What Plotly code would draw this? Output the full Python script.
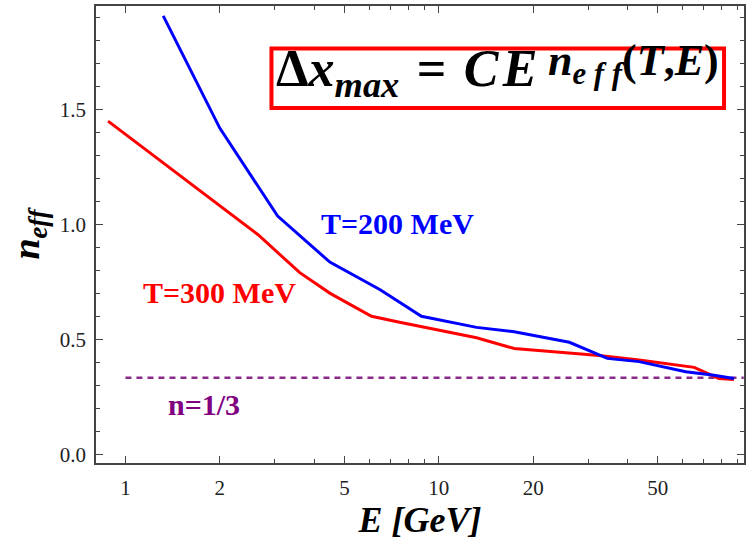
import plotly.graph_objects as go

# T = 200 MeV curve
E_200 = [1.32, 2.0, 3.06, 4.49, 6.5, 8.8, 13.2, 17.4, 26.1, 34.5, 43.6, 61.4, 74.6, 87.5]
n_200 = [1.907, 1.419, 1.036, 0.836, 0.716, 0.600, 0.552, 0.533, 0.487, 0.417, 0.403, 0.359, 0.345, 0.330]

# T = 300 MeV curve
E_300 = [0.88, 1.8, 2.65, 3.6, 4.5, 6.1, 7.5, 13.2, 17.4, 32.5, 43.6, 65.3, 78.3, 87.5]
n_300 = [1.449, 1.13, 0.955, 0.79, 0.70, 0.60, 0.574, 0.507, 0.46, 0.43, 0.41, 0.378, 0.33, 0.325]

# reference n = 1/3
E_ref = [1.0, 94.0]
n_ref = [1/3, 1/3]

x_tickvals = [1, 2, 5, 10, 20, 50]
x_ticktext = ["1", "2", "5", "10", "20", "50"]
x_minor = [3, 4, 6, 7, 8, 9, 30, 40, 60, 70, 80, 90]
y_tickvals = [0.0, 0.5, 1.0, 1.5]
y_ticktext = ["0.0", "0.5", "1.0", "1.5"]
y_minor = [0.1, 0.2, 0.3, 0.4, 0.6, 0.7, 0.8, 0.9, 1.1, 1.2, 1.3, 1.4, 1.6, 1.7, 1.8, 1.9]

SERIF = "Liberation Serif"

fig = go.Figure()
fig.add_trace(go.Scatter(x=E_ref, y=n_ref, mode="lines",
                         line=dict(color="#8a2a8a", width=2.5, dash="6px,5px")))
fig.add_trace(go.Scatter(x=E_300, y=n_300, mode="lines",
                         line=dict(color="#ff0000", width=3)))
fig.add_trace(go.Scatter(x=E_200, y=n_200, mode="lines",
                         line=dict(color="#0000ff", width=3)))

axis_common = dict(showline=True, linecolor="#444", linewidth=1.5, mirror="allticks",
                   ticks="inside", ticklen=7, tickwidth=1.2, tickcolor="#444",
                   showgrid=False, zeroline=False,
                   tickfont=dict(family=SERIF, size=21, color="#222"))

fig.update_xaxes(type="log", range=[-0.094, 1.974],
                 tickmode="array", tickvals=x_tickvals, ticktext=x_ticktext,
                 minor=dict(tickmode="array", tickvals=x_minor, ticks="inside",
                            ticklen=4, tickwidth=1.2, tickcolor="#444"),
                 ticklabelstandoff=5,
                 title=dict(text="<b><i>E [GeV]</i></b>", font=dict(family=SERIF, size=36, color="#000"),
                            standoff=8),
                 **axis_common)
fig.update_yaxes(range=[-0.038, 1.95],
                 tickmode="array", tickvals=y_tickvals, ticktext=y_ticktext,
                 minor=dict(tickmode="array", tickvals=y_minor, ticks="inside",
                            ticklen=4, tickwidth=1.2, tickcolor="#444"),
                 ticklabelstandoff=4,
                 title=dict(text="<b><i>n<sub>eff</sub></i></b>", font=dict(family=SERIF, size=38, color="#000"),
                            standoff=8),
                 **axis_common)

fig.add_annotation(x=0.4646, y=0.523, xref="paper", yref="paper", showarrow=False,
                   xanchor="center", yanchor="middle",
                   text="<b>T=200 MeV</b>", font=dict(family=SERIF, size=30, color="#0000ff"))
fig.add_annotation(x=0.1908, y=0.372, xref="paper", yref="paper", showarrow=False,
                   xanchor="center", yanchor="middle",
                   text="<b>T=300 MeV</b>", font=dict(family=SERIF, size=30, color="#ff0000"))
fig.add_annotation(x=0.166, y=0.129, xref="paper", yref="paper", showarrow=False,
                   xanchor="center", yanchor="middle",
                   text="<b>n=1/3</b>", font=dict(family=SERIF, size=30, color="#800080"))

# formula box
fig.add_shape(type="rect", xref="paper", yref="paper", x0=0.2708, x1=0.9692, y0=0.7768, y1=0.907,
              line=dict(color="#ff0000", width=4), fillcolor="rgba(0,0,0,0)")
fig.add_annotation(x=0.2754, y=0.8534, xref="paper", yref="paper", showarrow=False,
                   xanchor="left", yanchor="middle",
                   text="<b>Δ<i>x</i><sub><i>max</i></sub> \u200a=\u200a <i>C\u200aE</i></b>",
                   font=dict(family=SERIF, size=52, color="#000"))
fig.add_annotation(x=0.9646, y=0.874, xref="paper", yref="paper", showarrow=False,
                   xanchor="right", yanchor="middle",
                   text="<b><i>n</i><sub><i>e f f</i></sub>(<i>T</i>,<i>E</i>)</b>",
                   font=dict(family=SERIF, size=44, color="#000"))

fig.update_layout(width=749, height=544, margin=dict(l=96, r=3, t=6, b=81),
                  plot_bgcolor="white", paper_bgcolor="white", showlegend=False)

fig.write_html("out.html")
